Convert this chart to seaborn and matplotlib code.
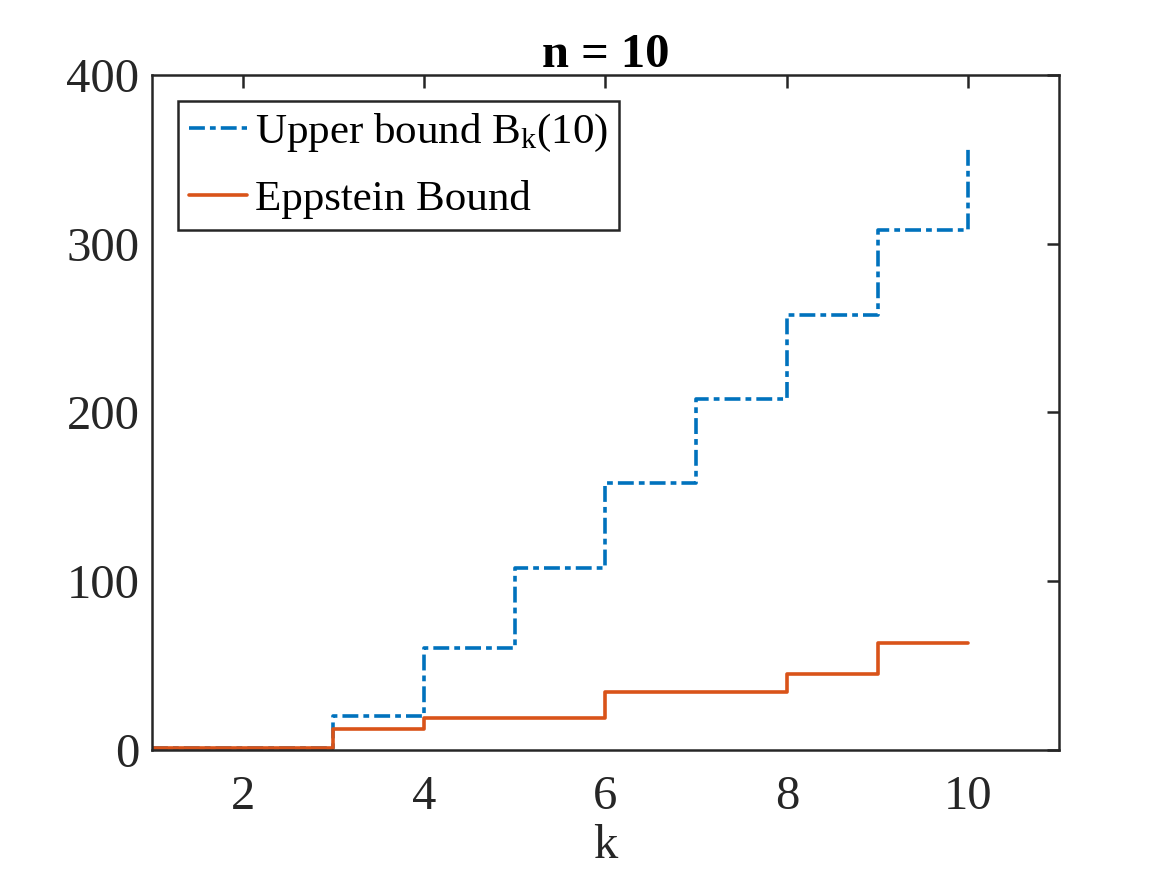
import numpy as np
import pandas as pd
import matplotlib
matplotlib.use("Agg")
import matplotlib.pyplot as plt
import seaborn as sns

# data
k = [1, 2, 3, 4, 5, 6, 7, 8, 9, 10]
upper_bound = [1, 1, 20, 60, 108, 158, 208, 258, 308, 358]
eppstein = [1, 1, 12, 19, 19, 34, 34, 45, 63, 63]

sns.set_style("white")
plt.rcParams['font.family'] = ['Liberation Serif', 'DejaVu Serif']
plt.rcParams['mathtext.fontset'] = 'custom'
plt.rcParams['mathtext.rm'] = 'Liberation Serif'
plt.rcParams['mathtext.it'] = 'Liberation Serif'

df = pd.DataFrame({"k": k, "upper": upper_bound, "epp": eppstein})

fig = plt.figure(figsize=(11.7, 8.84), dpi=100)
ax = fig.add_axes([0.130, 0.152, 0.775, 0.763])

dark = "#262626"
sns.lineplot(data=df, x="k", y="upper", ax=ax, color="#0072BD", lw=2.6,
             linestyle=(0, (4.4, 1.4, 1.6, 1.4)), drawstyle="steps-post",
             label=r"Upper bound B$_{\mathrm{k}}$(10)")
sns.lineplot(data=df, x="k", y="epp", ax=ax, color="#D95319", lw=2.6,
             drawstyle="steps-post", label="Eppstein Bound")

ax.set_xlim(1, 11)
ax.set_ylim(0, 400)
ax.set_xticks([2, 4, 6, 8, 10])
ax.set_yticks([0, 100, 200, 300, 400])
ax.tick_params(direction="in", length=9, width=1.8, colors=dark,
               labelsize=35, top=True, right=True)
ax.tick_params(axis="x", pad=18)
ax.tick_params(axis="y", pad=9)
for s in ax.spines.values():
    s.set_color(dark)
    s.set_linewidth(1.8)

ax.set_xlabel("k", fontsize=35, color=dark, labelpad=4)
ax.set_ylabel("")
ax.set_title("n = 10", fontsize=35, fontweight="bold", color="black", pad=6)

leg = ax.legend(loc="upper left", fontsize=31, frameon=True, fancybox=False,
                edgecolor=dark, handlelength=1.35, handletextpad=0.2,
                borderpad=0.25, labelspacing=0.6, borderaxespad=0.6,
                framealpha=1)
leg.get_frame().set_linewidth(1.8)
for t in leg.get_texts():
    t.set_color("black")

fig.savefig("out.png", dpi=100)
